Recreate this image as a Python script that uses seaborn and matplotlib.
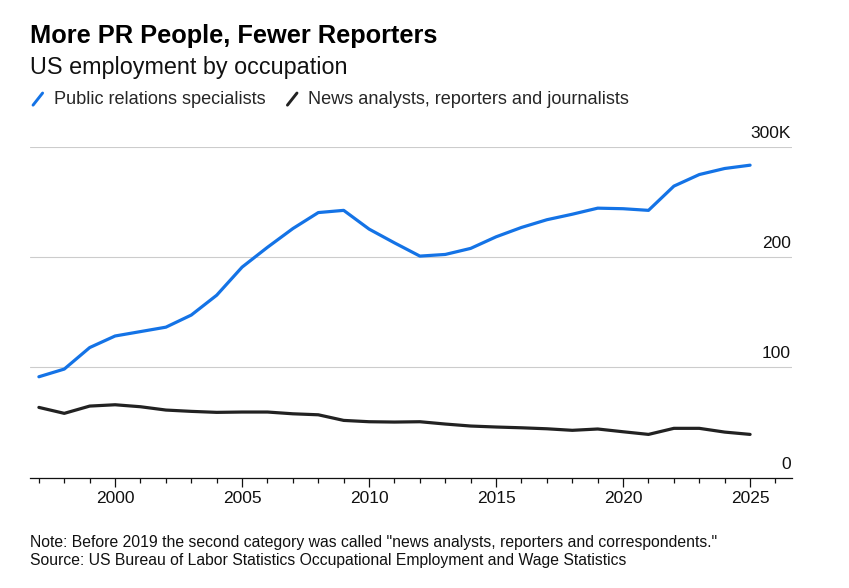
import pandas as pd
import matplotlib
matplotlib.use("Agg")
import matplotlib.pyplot as plt
import seaborn as sns
from matplotlib.lines import Line2D
from matplotlib.legend_handler import HandlerBase
from matplotlib.ticker import MultipleLocator

# Data (thousands of workers)
years = list(range(1997, 2026))
pr_specialists = [91.5, 98.5, 118, 128.5, 132.5, 136.5, 147.5, 165.5, 191, 209,
                  226, 240.5, 242.5, 225.5, 213, 201, 202.5, 208, 218.5, 227,
                  234, 239, 244.5, 244, 242.5, 264.5, 275, 280.5, 283.5]
news_reporters = [63.7, 58.3, 64.9, 66.1, 64.3, 61.3, 60.1, 59.2, 59.5, 59.5,
                  57.9, 57, 51.9, 50.7, 50.4, 50.7, 48.6, 46.8, 45.9, 45.2,
                  44.3, 42.9, 44.1, 41.6, 39.2, 44.7, 44.7, 41.3, 39.2]
series_names = ["Public relations specialists",
                "News analysts, reporters and journalists"]
y_ticks = [0, 100, 200, 300]
y_tick_labels = ["0", "100", "200", "300K"]
x_ticks = [2000, 2005, 2010, 2015, 2020, 2025]

colors = {series_names[0]: "#1473e6", series_names[1]: "#222222"}

df = pd.DataFrame({
    "year": years * 2,
    "value": pr_specialists + news_reporters,
    "series": [series_names[0]] * len(years) + [series_names[1]] * len(years),
})

sns.set_theme(style="white")
plt.rcParams["font.family"] = ["Liberation Sans", "DejaVu Sans"]

fig = plt.figure(figsize=(8.49, 5.88), dpi=100)
ax = fig.add_axes([30 / 849, 1 - 477.6 / 588, (792 - 30) / 849, (477.6 - 147) / 588])

sns.lineplot(data=df, x="year", y="value", hue="series", palette=colors,
             linewidth=2.3, legend=False, ax=ax)

ax.set_xlim(1996.65, 2026.65)
ax.set_ylim(0, 300)
ax.set_xlabel("")
ax.set_ylabel("")

# gridlines and right-side labels sitting above them
ax.set_yticks(y_ticks)
ax.set_yticklabels([])
ax.tick_params(axis="y", length=0)
ax.yaxis.grid(True, color="#cccccc", linewidth=0.8)
for v, lab in zip(y_ticks, y_tick_labels):
    ax.annotate(lab, xy=(1, v), xycoords=("axes fraction", "data"),
                xytext=(-1, 6), textcoords="offset pixels",
                ha="right", va="bottom", fontsize=12.5, color="#111111")

ax.set_xticks(x_ticks)
ax.set_xticklabels([str(x) for x in x_ticks])
ax.xaxis.set_minor_locator(MultipleLocator(1))
ax.tick_params(axis="x", which="major", direction="out", length=6.5, width=0.9,
               color="#111111", labelsize=12.5, labelcolor="#111111", pad=3,
               bottom=True)
ax.tick_params(axis="x", which="minor", direction="out", length=3.8, width=0.9,
               color="#111111", bottom=True)

for s in ["left", "right", "top"]:
    ax.spines[s].set_visible(False)
ax.spines["bottom"].set_color("#111111")
ax.spines["bottom"].set_linewidth(0.9)


# legend with slash-shaped keys
class SlashHandler(HandlerBase):
    def create_artists(self, legend, orig_handle, xdescent, ydescent,
                       width, height, fontsize, trans):
        x0, y0 = -xdescent, -ydescent
        line = Line2D([x0 + 0.15 * width, x0 + 0.85 * width],
                      [y0 - 0.05 * height, y0 + 0.9 * height],
                      color=orig_handle.get_color(), linewidth=2.1,
                      transform=trans)
        return [line]


handles = [Line2D([], [], color=colors[n]) for n in series_names]
fig.legend(handles, series_names, handler_map={Line2D: SlashHandler()},
           loc="center left", bbox_to_anchor=(31 / 849, 1 - 100 / 588),
           ncol=2, frameon=False, fontsize=13.1, handlelength=0.75,
           handletextpad=0.5, columnspacing=1.1, borderpad=0, borderaxespad=0)

fig.text(30 / 849, 1 - 43.3 / 588, "More PR People, Fewer Reporters",
         fontsize=18.3, fontweight="bold", color="#000000", va="baseline")
fig.text(30 / 849, 1 - 74.3 / 588, "US employment by occupation",
         fontsize=16.8, color="#111111", va="baseline")
fig.text(30 / 849, 1 - 547.3 / 588,
         'Note: Before 2019 the second category was called "news analysts, reporters and correspondents."',
         fontsize=11.3, color="#111111", va="baseline")
fig.text(30 / 849, 1 - 565 / 588,
         "Source: US Bureau of Labor Statistics Occupational Employment and Wage Statistics",
         fontsize=11.3, color="#111111", va="baseline")

fig.savefig("out.png", dpi=100)
